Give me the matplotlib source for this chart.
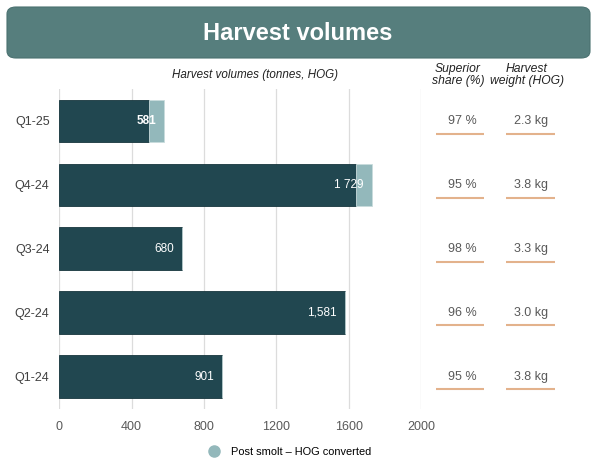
import numpy as np
import matplotlib
matplotlib.use('Agg')
import matplotlib.pyplot as plt
from matplotlib.patches import FancyBboxPatch
from matplotlib.lines import Line2D
from matplotlib.transforms import blended_transform_factory

plt.rcParams['font.family'] = ['Liberation Sans', 'DejaVu Sans']

# ===== data =====
quarters = ['Q1-25', 'Q4-24', 'Q3-24', 'Q2-24', 'Q1-24']
base_vol = [494, 1640, 680, 1581, 901]        # ordinary harvest (tonnes)
post_smolt = [87, 89, 0, 0, 0]                # post smolt, HOG converted
total_labels = ['581', '1 729', '680', '1,581', '901']
label_bold = [True, False, False, False, False]
superior_share = ['97 %', '95 %', '98 %', '96 %', '95 %']
harvest_weight = ['2.3 kg', '3.8 kg', '3.3 kg', '3.0 kg', '3.8 kg']
x_ticks = [0, 400, 800, 1200, 1600, 2000]

# ===== colours =====
c_dark = '#214750'
c_light = '#93b8bb'
c_title = '#567e7d'
c_orange = '#e3b28c'
c_grid = '#dcdcdc'

W, H = 598, 466
fig = plt.figure(figsize=(W / 100, H / 100), dpi=100)

# title banner
banner = FancyBboxPatch((7 / W, 1 - 58 / H), 583 / W, 51 / H,
                        boxstyle='round,pad=0,rounding_size=0.015',
                        transform=fig.transFigure, facecolor=c_title,
                        edgecolor='#4a7170', linewidth=0.8)
fig.patches.append(banner)
fig.text(298 / W, 1 - 33 / H, 'Harvest volumes', color='white',
         fontsize=17, fontweight='bold', ha='center', va='center')

# main axes
ax = fig.add_axes([59.3 / W, (H - 408.5) / H, (421 - 59.3) / W, (408.5 - 89) / H])
y = np.arange(len(quarters))
bar_h = 0.667
ax.barh(y, base_vol, height=bar_h, color=c_dark, edgecolor='#17363d', linewidth=0.6, zorder=3)
ax.barh(y, post_smolt, left=base_vol, height=bar_h, color=c_light,
        edgecolor='#c9dcdd', linewidth=0.6, zorder=3)

totals = np.array(base_vol) + np.array(post_smolt)
for i, (tot, lab, b) in enumerate(zip(totals, total_labels, label_bold)):
    ax.annotate(lab, (tot, i), xytext=(-6, 0), textcoords='offset points',
                ha='right', va='center', color='white', fontsize=8.5,
                fontweight='bold' if b else 'normal', zorder=4)

ax.set_xlim(0, 2000)
ax.set_ylim(len(quarters) - 0.5, -0.5)
ax.set_xticks(x_ticks)
ax.set_xticklabels([str(t) for t in x_ticks])
ax.set_yticks(y)
ax.set_yticklabels(quarters)
ax.tick_params(axis='x', length=0, labelsize=9, colors='#595959', pad=9)
ax.tick_params(axis='y', length=0, labelsize=9, colors='#404040', pad=7)
ax.grid(axis='x', color=c_grid, linewidth=0.9, zorder=0)
ax.grid(axis='y', visible=False)
for s in ax.spines.values():
    s.set_visible(False)

# column headers
fig.text(255 / W, 1 - 75 / H, 'Harvest volumes (tonnes, HOG)', fontsize=8.4,
         style='italic', ha='center', va='center', color='#222222')
fig.text(458 / W, 1 - 75 / H, 'Superior\nshare (%)', fontsize=8.7,
         style='italic', ha='center', va='center', color='#222222', linespacing=1.1)
fig.text(527 / W, 1 - 75 / H, 'Harvest\nweight (HOG)', fontsize=8.7,
         style='italic', ha='center', va='center', color='#222222', linespacing=1.1)

# side columns
tr = blended_transform_factory(fig.transFigure, ax.transData)
for i in range(len(quarters)):
    ax.text(462 / W, i, superior_share[i], transform=tr, ha='center', va='center',
            fontsize=9, color='#595959', clip_on=False)
    ax.text(531 / W, i, harvest_weight[i], transform=tr, ha='center', va='center',
            fontsize=9, color='#595959', clip_on=False)
    ax.plot([436 / W, 484 / W], [i + 0.2, i + 0.2], transform=tr, color=c_orange,
            linewidth=1.5, clip_on=False, solid_capstyle='butt')
    ax.plot([506 / W, 555 / W], [i + 0.2, i + 0.2], transform=tr, color=c_orange,
            linewidth=1.5, clip_on=False, solid_capstyle='butt')

# legend
handle = Line2D([], [], marker='o', linestyle='none', markersize=8,
                markerfacecolor=c_light, markeredgecolor=c_light)
fig.legend([handle], ['Post smolt – HOG converted'], loc='center',
           bbox_to_anchor=(287 / W, 1 - 452 / H), frameon=False, fontsize=7.9,
           handletextpad=0.5, borderpad=0)

fig.savefig('out.png', dpi=100)
